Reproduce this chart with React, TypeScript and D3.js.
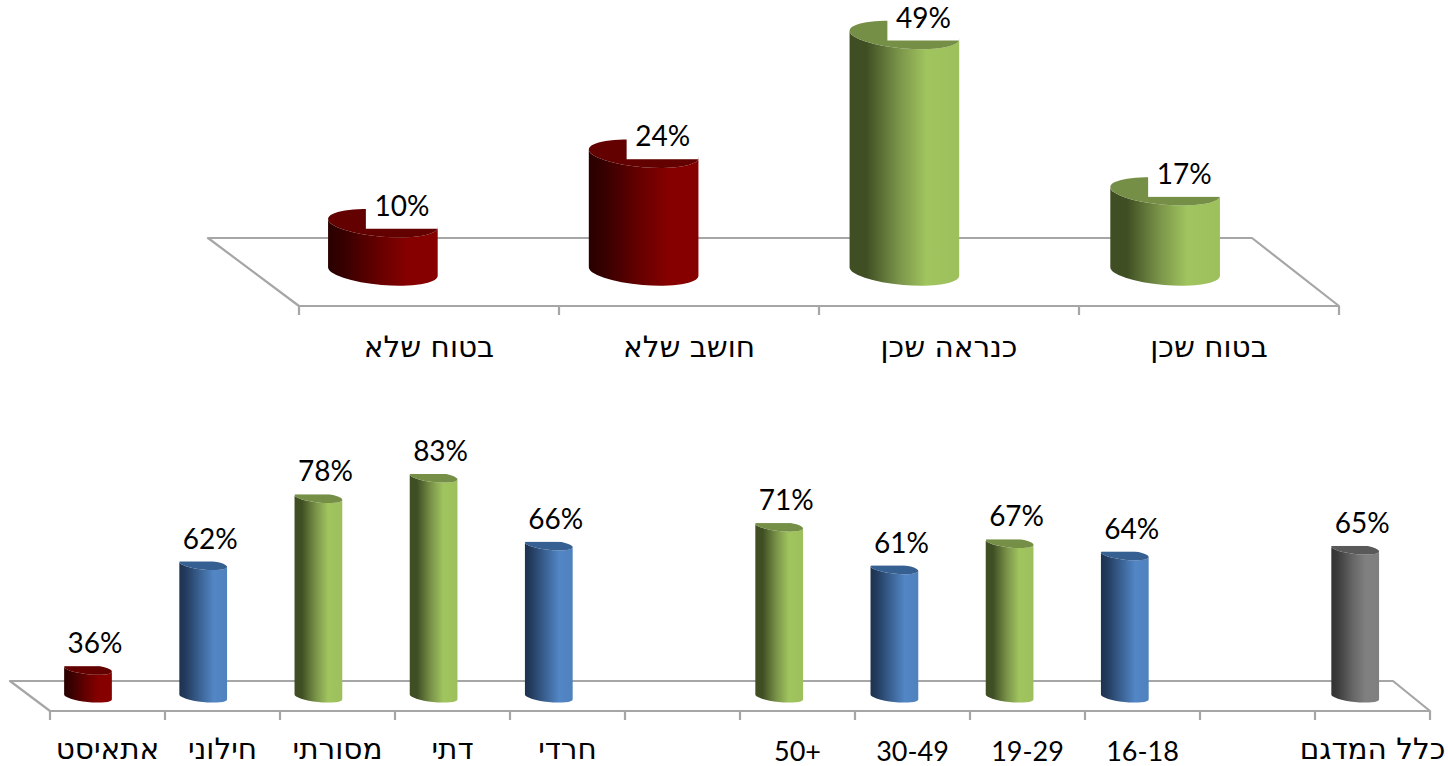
import * as d3 from 'd3';

type Tone = 'red' | 'green' | 'blue' | 'gray';

// top chart
const topCategories = ['בטוח שלא', 'חושב שלא', 'כנראה שכן', 'בטוח שכן'];
const topValues = [10, 24.4, 49, 16.6];
const topTones: Tone[] = ['red', 'red', 'green', 'green'];

// bottom chart, empty strings are the gaps between the groups
const bottomCategories = ['אתאיסט', 'חילוני', 'מסורתי', 'דתי', 'חרדי', '', '50+', '30-49', '19-29', '16-18', '', 'כלל המדגם'];
const bottomValues = [36, 61.6, 78, 83, 66.4, null, 71, 60.6, 67, 64, null, 65.4];
const bottomTones: (Tone | null)[] = ['red', 'blue', 'green', 'green', 'blue', null, 'green', 'blue', 'green', 'blue', null, 'gray'];

const palette: Record<Tone, { stops: [number, string][]; cap: string }> = {
    red: { stops: [[0, '#2a0000'], [0.12, '#340000'], [0.45, '#640000'], [0.72, '#860000'], [1, '#860000']], cap: '#630000' },
    green: { stops: [[0, '#3f4e23'], [0.15, '#3f4e23'], [0.45, '#7a9449'], [0.7, '#a0c45e'], [1, '#9dc05c']], cap: '#768f47' },
    blue: { stops: [[0, '#1d324f'], [0.12, '#223a5c'], [0.45, '#3c6597'], [0.72, '#5286c5'], [1, '#4f81bd']], cap: '#376092' },
    gray: { stops: [[0, '#333333'], [0.12, '#3a3a3a'], [0.45, '#666666'], [0.72, '#808080'], [1, '#7f7f7f']], cap: '#595959' },
};

const lineColor = '#a6a6a6';
const latin = 'Lato, sans-serif';
const hebrew = '"DejaVu Sans", sans-serif';

// the floor and the cylinders don't share a step in the original, so each gets its own band scale
const topX = d3.scaleBand<number>().domain(d3.range(topCategories.length)).range([299, 1339]);
const topBarX = d3.scaleBand<number>().domain(d3.range(topCategories.length)).range([252.5, 1295.5]);
const topY = d3.scaleLinear().domain([0, 49]).range([271.5, 35]);
const bottomX = d3.scaleBand<number>().domain(d3.range(bottomCategories.length)).range([50, 1430]);
const bottomBarX = d3.scaleBand<number>().domain(d3.range(bottomCategories.length)).range([30.4, 1412.8]);
const bottomY = d3.scaleLinear().domain([29.2, 83]).range([697, 477]);

function bodyPath(cx: number, top: number, base: number, rx: number, ry: number, deg: number) {
    const a = (deg * Math.PI) / 180;
    const dx = rx * Math.cos(a);
    const dy = rx * Math.sin(a);
    return `M${cx - dx},${top - dy} L${cx - dx},${base - dy} A${rx},${ry} ${deg} 0 0 ${cx + dx},${base + dy} L${cx + dx},${top + dy} A${rx},${ry} ${deg} 0 1 ${cx - dx},${top - dy} Z`;
}

const Cylinder = (props: {
    cx: number; top: number; base: number; rx: number; ry: number; deg: number; tone: Tone;
    label: string; labelDx: number; labelDy: number; clipDy: number; boxLeft: number; boxRight: number;
}) => {
    const { cx, top, base, rx, ry, deg, tone, label, labelDx, labelDy, clipDy, boxLeft, boxRight } = props;
    return (
        <g>
            <path d={bodyPath(cx, top, base, rx, ry, deg)} fill={`url(#body-${tone})`} />
            <ellipse cx={cx} cy={top} rx={rx} ry={ry} fill={palette[tone].cap} transform={`rotate(${deg} ${cx} ${top})`} />
            {/* the label box sits over the cap, like the white data label in the original */}
            <rect x={cx + boxLeft} y={top + clipDy - 34} width={boxRight - boxLeft} height={34} fill="#fff" />
            <text x={cx + labelDx} y={top + labelDy} textAnchor="middle" fontFamily={latin} fontSize={28} fill="#000">{label}</text>
        </g>
    );
};

const Floor = (props: { backY: number; frontY: number; backL: number; backR: number; ticks: number[]; tickY: number }) => {
    const { backY, frontY, backL, backR, ticks, tickY } = props;
    const frontL = ticks[0];
    const frontR = ticks[ticks.length - 1];
    return (
        <g stroke={lineColor} fill="none" strokeWidth={2.2}>
            <path d={`M${frontL},${frontY} L${backL},${backY} L${backR},${backY} L${frontR},${frontY} Z`} strokeLinejoin="round" />
            {ticks.map((t, i) => <line key={i} x1={t} x2={t} y1={frontY} y2={tickY} />)}
        </g>
    );
};

export default function App() {
    const topTicks = [...topX.domain().map(i => topX(i)!), 1339];
    const bottomTicks = [...bottomX.domain().map(i => bottomX(i)!), 1430];

    return (
        <svg width={1448} height={766} style={{ position: 'absolute', left: 0, top: 0, display: 'block', background: '#fff' }}>
            <defs>
                {(Object.keys(palette) as Tone[]).map(tone => (
                    <linearGradient key={tone} id={`body-${tone}`} x1="0" x2="1" y1="0" y2="0">
                        {palette[tone].stops.map(([o, c]) => <stop key={o} offset={o} stopColor={c} />)}
                    </linearGradient>
                ))}
            </defs>

            <Floor backY={238} frontY={306} backL={208} backR={1252} ticks={topTicks} tickY={315} />
            {topValues.map((v, i) => (
                <Cylinder key={i} cx={topBarX(i)! + topBarX.bandwidth() / 2} top={topY(v)} base={topY(0)} rx={55} ry={13.5} deg={4.7}
                    tone={topTones[i]} label={`${Math.round(v)}%`} labelDx={19} labelDy={-7.5} clipDy={5.5} boxLeft={-17} boxRight={55} />
            ))}
            {topCategories.map((c, i) => (
                <text key={i} x={topX(i)! + topX.bandwidth() / 2} y={357} textAnchor="middle" fontFamily={hebrew} fontSize={29.5} fill="#000">{c}</text>
            ))}

            <Floor backY={681} frontY={711} backL={10} backR={1393} ticks={bottomTicks} tickY={720} />
            {bottomValues.map((v, i) => v === null ? null : (
                <Cylinder key={i} cx={bottomBarX(i)! + bottomBarX.bandwidth() / 2} top={bottomY(v)} base={bottomY.range()[0]} rx={24} ry={5} deg={6}
                    tone={bottomTones[i]!} label={`${Math.round(v)}%`} labelDx={7} labelDy={-16} clipDy={-3} boxLeft={-26} boxRight={26} />
            ))}
            {bottomCategories.map((c, i) => {
                const numeric = /[0-9]/.test(c);
                // hebrew sits a bit higher, DejaVu's descent would run past the bottom of the page
                return (
                    <text key={i} x={bottomX(i)! + bottomX.bandwidth() / 2} y={numeric ? 761 : 759} textAnchor="middle"
                        fontFamily={numeric ? latin : hebrew} fontSize={numeric ? 27 : 29.5} fill="#000">{c}</text>
                );
            })}
        </svg>
    );
}
